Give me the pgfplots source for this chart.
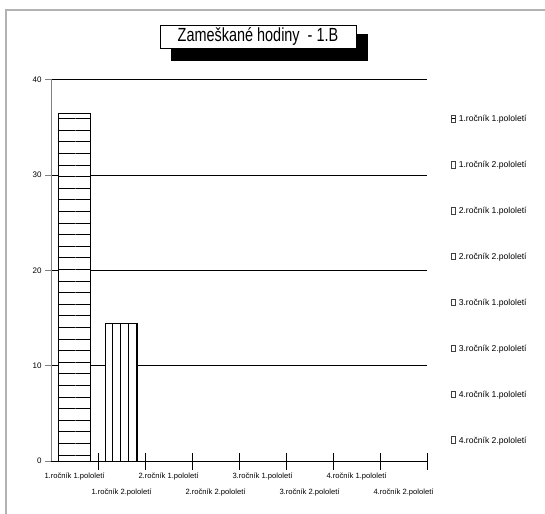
\documentclass[border=0pt]{standalone}
\usepackage{fontspec}
\setmainfont{Liberation Sans}
\usepackage{pgfplots}
\pgfplotsset{compat=1.18}
\usetikzlibrary{patterns.meta}
\begin{document}
\begin{tikzpicture}[x=1pt,y=1pt]
\useasboundingbox (0,0) rectangle (545,513);
\fill[white] (0,0) rectangle (545,513);
\draw[gray!60, line width=1.5pt] (6,-2) -- (6,503) -- (547,503);
\fill[black] (171,452) rectangle (368,479);
\draw[black, fill=white, line width=0.8pt] (160,465) rectangle (356,488);
\node at (258,476.5) {\scalebox{0.76}[1]{\fontsize{19}{22}\selectfont Zameškané hodiny\ \ - 1.B}};
\begin{axis}[
  at={(51pt,52pt)}, anchor=south west,
  scale only axis, width=376pt, height=381.5pt,
  xmin=0, xmax=8, ymin=0, ymax=40,
  axis x line=bottom, axis y line=left,
  axis line style={-},
  x axis line style={black, line width=0.8pt},
  y axis line style={gray, line width=0.8pt},
  ytick={0,10,20,30,40},
  ymajorgrids, grid style={black, line width=0.7pt},
  tick align=outside, major tick length=6pt,
  ytick style={gray, line width=0.7pt},
  yticklabel style={font=\fontsize{8}{9}\selectfont},
  /pgf/number format/assume math mode=true,
  xtick={0.5,1.5,...,7.5},
  xticklabels={1.ročník 1.pololetí, \mbox{}\\1.ročník 2.pololetí, 2.ročník 1.pololetí, \mbox{}\\2.ročník 2.pololetí, 3.ročník 1.pololetí, \mbox{}\\3.ročník 2.pololetí, 4.ročník 1.pololetí, \mbox{}\\4.ročník 2.pololetí},
  xticklabel style={font=\fontsize{7.6}{21}\selectfont, align=center, anchor=north, yshift=-2.5pt},
  major x tick style={draw=none},
  minor xtick={1,...,8},
  minor tick length=17pt,
  minor x tick style={black, line width=0.7pt, yshift=8pt},
  ybar, bar width=32pt, bar shift=0pt,
  legend image code/.code={\draw[gray!50!black, fill=white, line width=0.5pt] (0pt,-3.3pt) rectangle (4pt,3.3pt);},
  legend style={draw=none, fill=none, at={(rel axis cs:1.064,0.907)}, anchor=north west,
    inner sep=0pt, row sep=38.8pt, font=\fontsize{8.6}{10}\selectfont,
    nodes={inner sep=0pt, text height=6pt, text depth=0pt},
    /tikz/every odd column/.append style={column sep=3pt}},
  legend cell align=left,
]
\addplot[draw=black, line width=0.7pt, fill=white, postaction={pattern={Lines[angle=0,distance=11.6pt,line width=0.7pt]}}]
  coordinates {(0.5,36.5)};
\addlegendentry{1.ročník 1.pololetí}
\addplot[draw=black, line width=0.7pt, fill=white, postaction={pattern={Lines[angle=90,distance=8pt,line width=0.7pt]}}]
  coordinates {(1.5,14.4)};
\addlegendentry{1.ročník 2.pololetí}
\addlegendimage{}
\addlegendentry{2.ročník 1.pololetí}
\addlegendimage{}
\addlegendentry{2.ročník 2.pololetí}
\addlegendimage{}
\addlegendentry{3.ročník 1.pololetí}
\addlegendimage{}
\addlegendentry{3.ročník 2.pololetí}
\addlegendimage{}
\addlegendentry{4.ročník 1.pololetí}
\addlegendimage{}
\addlegendentry{4.ročník 2.pololetí}
\end{axis}
\end{tikzpicture}
\end{document}
